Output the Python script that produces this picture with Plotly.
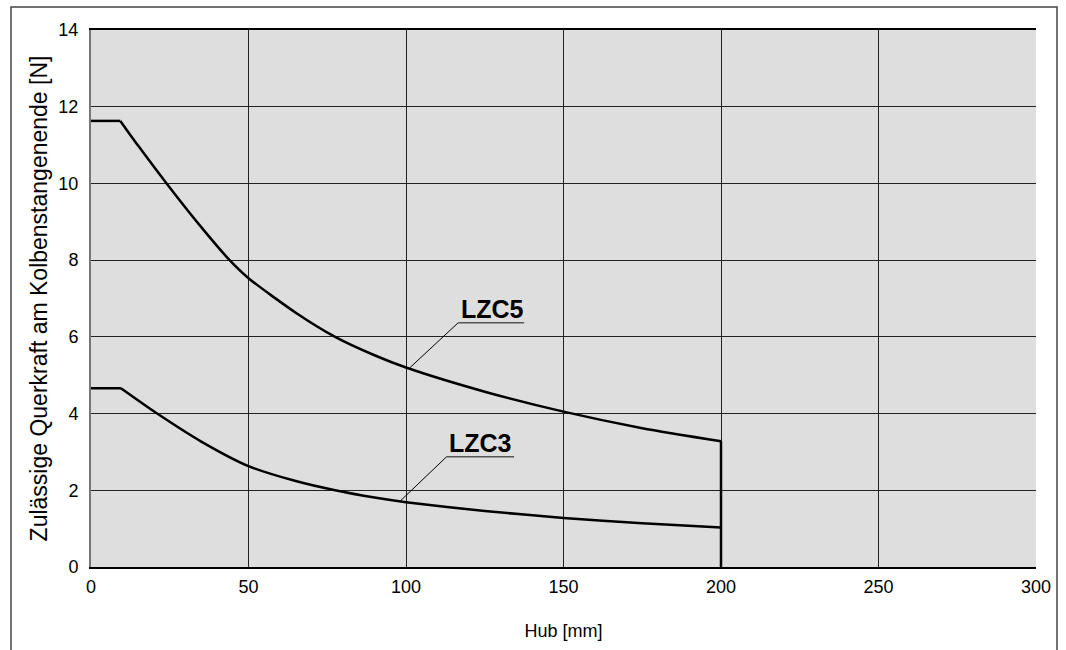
import plotly.graph_objects as go

# Data
lzc5_x = [0, 9.3, 15, 24, 35, 44, 50, 65, 77.5, 90, 100, 125, 150, 175, 200]
lzc5_y = [11.63, 11.63, 10.98, 10.0, 8.86, 8.0, 7.53, 6.63, 6.0, 5.52, 5.2, 4.57, 4.05, 3.62, 3.28]
lzc3_x = [0, 9.5, 21, 35, 50, 65, 77.5, 90, 100, 125, 150, 175, 200]
lzc3_y = [4.66, 4.66, 4.0, 3.27, 2.63, 2.24, 2.0, 1.81, 1.69, 1.46, 1.28, 1.14, 1.03]
end_x = [200, 200]
end_y = [3.28, 0]

series_names = ["LZC5", "LZC3"]
x_ticks = [0, 50, 100, 150, 200, 250, 300]
y_ticks = [0, 2, 4, 6, 8, 10, 12, 14]

x_title = "Hub [mm]"
y_title = "Zulässige Querkraft am Kolbenstangenende [N]"

FONT = "Liberation Sans, Arial, sans-serif"
line_style = dict(color="black", width=2.5)

fig = go.Figure()
for name, xs, ys in [(series_names[0], lzc5_x, lzc5_y), (series_names[1], lzc3_x, lzc3_y)]:
    # flat part
    fig.add_trace(go.Scatter(x=xs[:2], y=ys[:2], mode="lines", line=line_style, showlegend=False, hoverinfo="skip"))
    # curved part
    fig.add_trace(go.Scatter(x=xs[1:], y=ys[1:], mode="lines", name=name,
                             line=dict(color="black", width=2.5, shape="spline", smoothing=0.7),
                             showlegend=False))
fig.add_trace(go.Scatter(x=end_x, y=end_y, mode="lines", line=line_style, showlegend=False, hoverinfo="skip"))

# Labels with underline and leader lines
labels = [
    dict(text=series_names[0], tx=127.3, ty=6.72, ux0=116.6, ux1=137.5, uy=6.37, lx=101.3, ly=5.20),
    dict(text=series_names[1], tx=123.8, ty=3.23, ux0=112.9, ux1=134.3, uy=2.875, lx=98.3, ly=1.73),
]
for lb in labels:
    fig.add_annotation(x=lb["tx"], y=lb["ty"], xref="x", yref="y", text="<b>" + lb["text"] + "</b>",
                       showarrow=False, font=dict(family=FONT, size=25, color="black"),
                       xanchor="center", yanchor="middle")
    fig.add_shape(type="line", xref="x", yref="y", x0=lb["ux0"], x1=lb["ux1"], y0=lb["uy"], y1=lb["uy"],
                  line=dict(color="#555555", width=1.5))
    fig.add_shape(type="line", xref="x", yref="y", x0=lb["ux0"], y0=lb["uy"], x1=lb["lx"], y1=lb["ly"],
                  line=dict(color="black", width=1))

# Outer frame
fig.add_shape(type="rect", xref="paper", yref="paper",
              x0=(11 - 91) / 945, x1=(1057 - 91) / 945,
              y0=(567 - 700) / 537, y1=(567 - 7) / 537,
              line=dict(color="#444444", width=1.5), fillcolor="rgba(0,0,0,0)", layer="below")

fig.update_layout(
    width=1066, height=650,
    margin=dict(l=91, r=30, t=30, b=83),
    paper_bgcolor="white",
    plot_bgcolor="#dedede",
    font=dict(family=FONT, size=18, color="black"),
    showlegend=False,
)
fig.update_xaxes(range=[0, 300], tickvals=x_ticks, ticktext=[str(v) for v in x_ticks],
                 showgrid=True, gridcolor="#222222", gridwidth=1,
                 showline=True, linecolor="black", linewidth=1.5, mirror=True,
                 zeroline=False, ticks="", ticklen=0, ticklabelstandoff=3,
                 tickfont=dict(family=FONT, size=18),
                 title=dict(text=x_title, font=dict(family=FONT, size=18), standoff=28))
fig.update_yaxes(range=[0, 14], tickvals=y_ticks, ticktext=[str(v) for v in y_ticks],
                 showgrid=True, gridcolor="#222222", gridwidth=1,
                 showline=True, linecolor="#777777", linewidth=2,
                 zeroline=False, ticks="", ticklen=0, ticklabelstandoff=7,
                 tickfont=dict(family=FONT, size=18),
                 title=dict(text=y_title, font=dict(family=FONT, size=23), standoff=4))

fig.write_html("out.html", config={"displayModeBar": False},
               post_script="document.body.style.margin='0';")
